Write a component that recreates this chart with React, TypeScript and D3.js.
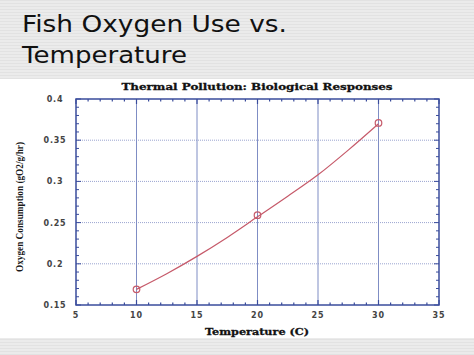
import React from "react";
import * as d3 from "d3";

const slideTitle = ["Fish Oxygen Use vs.", "Temperature"];
const slideTitleWidths = [265, 165];
const chartTitle = "Thermal Pollution: Biological Responses";
const xLabel = "Temperature (C)";
const yLabel = "Oxygen Consumption (gO2/g/hr)";

const xTicks = [5, 10, 15, 20, 25, 30, 35];
const yTicks = [0.15, 0.2, 0.25, 0.3, 0.35, 0.4];
const yTickLabels = ["0.15", "0.2", "0.25", "0.3", "0.35", "0.4"];

const measuredTemp = [10, 20, 30];
const measuredO2 = [0.169, 0.259, 0.371];

const fitTemp = [10, 12.5, 15, 17.5, 20, 22.5, 25, 27.5, 30];
const fitO2 = [0.169, 0.188, 0.209, 0.232, 0.257, 0.282, 0.308, 0.338, 0.37];

const W = 474;
const H = 355;
const L = 76, R = 439, T = 99, B = 305;
const blue = "#3a4c9c";
const red = "#c65a6a";

export default function App() {
  const x = d3.scaleLinear().domain([5, 35]).range([L, R]);
  const y = d3.scaleLinear().domain([0.15, 0.4]).range([B, T]);
  const minorX = d3.range(5, 35.001, 1);
  const minorY = d3.range(0, 26).map((i) => 0.15 + i * 0.01);
  const line = d3
    .line<number>()
    .x((d, i) => x(fitTemp[i]))
    .y((d) => y(d))
    .curve(d3.curveMonotoneX);

  return (
    <svg
      width={W}
      height={H}
      style={{ position: "absolute", left: 0, top: 0, display: "block" }}
    >
      <defs>
        <pattern id="stripes" width="4" height="3" patternUnits="userSpaceOnUse">
          <rect width="4" height="3" fill="#ebebeb" />
          <rect width="4" height="1" fill="#e2e2e2" />
        </pattern>
      </defs>
      <rect width={W} height={H} fill="url(#stripes)" />
      <rect x={0} y={79} width={W} height={259} fill="#ffffff" />
      {slideTitle.map((t, i) => (
        <text
          key={i}
          x={22}
          y={32 + i * 31}
          fontFamily="DejaVu Sans, Verdana, sans-serif"
          fontSize={23.5}
          textLength={slideTitleWidths[i]}
          lengthAdjust="spacingAndGlyphs"
          fill="#111"
        >
          {t}
        </text>
      ))}
      <text
        x={257}
        y={90}
        textAnchor="middle"
        fontFamily="DejaVu Serif, serif"
        fontWeight="bold"
        fontSize={9.5}
        textLength={271}
        lengthAdjust="spacingAndGlyphs"
        fill="#111"
        stroke="#111"
        strokeWidth={0.3}
      >
        {chartTitle}
      </text>
      {/* horizontal grid dotted */}
      {yTicks.slice(1, -1).map((v) => (
        <line
          key={"hy" + v}
          x1={L}
          x2={R}
          y1={y(v)}
          y2={y(v)}
          stroke="#9aa4d0"
          strokeWidth={1}
          strokeDasharray="1,1"
        />
      ))}
      {/* vertical grid solid */}
      {xTicks.slice(1, -1).map((v) => (
        <line
          key={"vx" + v}
          x1={x(v)}
          x2={x(v)}
          y1={T}
          y2={B}
          stroke="#7f8dc4"
          strokeWidth={1}
        />
      ))}
      {/* minor ticks */}
      {minorX.map((v) => (
        <g key={"mx" + v}>
          <line x1={x(v)} x2={x(v)} y1={B} y2={B - (v % 5 === 0 ? 5 : 2.5)} stroke={blue} strokeWidth={1.2} />
          <line x1={x(v)} x2={x(v)} y1={T} y2={T + (v % 5 === 0 ? 5 : 2.5)} stroke={blue} strokeWidth={1.2} />
        </g>
      ))}
      {minorY.map((v, i) => (
        <g key={"my" + i}>
          <line x1={L} x2={L + (i % 5 === 0 ? 5 : 3)} y1={y(v)} y2={y(v)} stroke={blue} strokeWidth={1} />
          <line x1={R} x2={R - (i % 5 === 0 ? 5 : 3)} y1={y(v)} y2={y(v)} stroke={blue} strokeWidth={1} />
        </g>
      ))}
      <rect x={L} y={T} width={R - L} height={B - T} fill="none" stroke={blue} strokeWidth={1.5} />
      {/* fit curve */}
      <path d={line(fitO2) || ""} fill="none" stroke={red} strokeWidth={1.2} />
      {measuredTemp.map((t, i) => (
        <circle
          key={"p" + t}
          cx={x(t)}
          cy={y(measuredO2[i])}
          r={3.3}
          fill="none"
          stroke={red}
          strokeWidth={1.2}
        />
      ))}
      {/* tick labels */}
      {xTicks.map((v) => (
        <text
          key={"xl" + v}
          x={x(v)}
          y={318}
          textAnchor="middle"
          fontFamily="DejaVu Sans, sans-serif"
          fontWeight="bold"
          fontSize={8}
          letterSpacing={1}
          fill="#444"
        >
          {v}
        </text>
      ))}
      {yTicks.map((v, i) => (
        <text
          key={"yl" + v}
          x={55}
          y={y(v) + 3}
          textAnchor="middle"
          fontFamily="DejaVu Sans, sans-serif"
          fontWeight="bold"
          fontSize={8}
          letterSpacing={0.8}
          fill="#444"
        >
          {yTickLabels[i]}
        </text>
      ))}
      <text
        x={257}
        y={335}
        textAnchor="middle"
        fontFamily="DejaVu Serif, serif"
        fontWeight="bold"
        fontSize={9.5}
        textLength={104}
        lengthAdjust="spacingAndGlyphs"
        fill="#111"
        stroke="#111"
        strokeWidth={0.3}
      >
        {xLabel}
      </text>
      <text
        transform={`translate(23,207) rotate(-90)`}
        textAnchor="middle"
        fontFamily="Liberation Serif, serif"
        fontWeight="bold"
        fontSize={10.5}
        textLength={130}
        lengthAdjust="spacingAndGlyphs"
        fill="#1a1a1a"
      >
        {yLabel}
      </text>
    </svg>
  );
}
